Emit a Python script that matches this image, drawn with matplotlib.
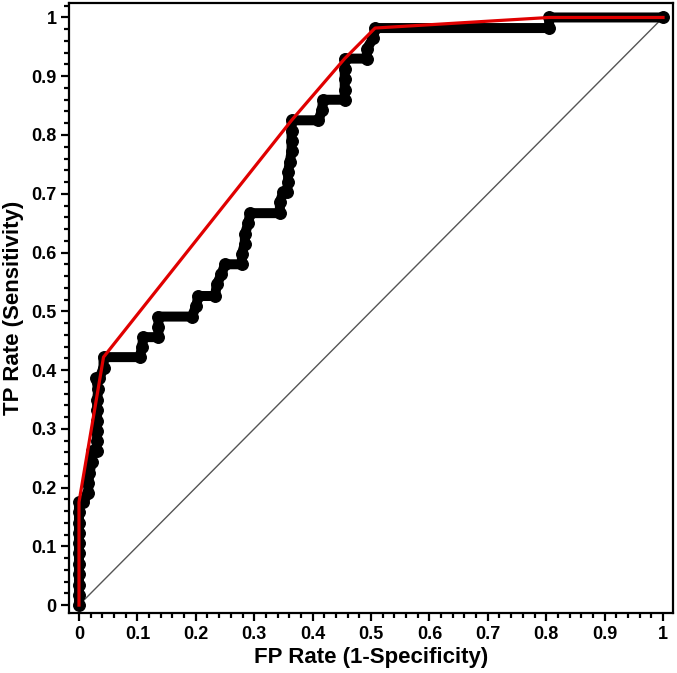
import numpy as np
import matplotlib
matplotlib.use("Agg")
import matplotlib.pyplot as plt
from matplotlib.ticker import MultipleLocator

plt.rcParams['font.family'] = ['Liberation Sans', 'DejaVu Sans']
plt.rcParams['font.weight'] = 'bold'

# ROC points
fpr = [0, 0, 0, 0, 0, 0, 0, 0, 0, 0, 0, 0.007,
       0.016, 0.016, 0.018, 0.022, 0.022, 0.030,
       0.031, 0.031, 0.031, 0.031, 0.031, 0.033,
       0.029, 0.035, 0.042, 0.042, 0.104,
       0.108, 0.110, 0.136, 0.136, 0.136, 0.193,
       0.201, 0.204, 0.233, 0.236, 0.244, 0.250, 0.279,
       0.279, 0.284, 0.284, 0.290, 0.293, 0.344,
       0.344, 0.350, 0.356, 0.358, 0.358, 0.361,
       0.364, 0.364, 0.364, 0.364, 0.410,
       0.416, 0.418, 0.455,
       0.455, 0.455, 0.455, 0.455, 0.493,
       0.493, 0.504, 0.507, 0.805, 0.805, 1.0]
tpr = [0, 0.018, 0.035, 0.053, 0.070, 0.088, 0.105, 0.123, 0.140, 0.158, 0.175, 0.175,
       0.191, 0.208, 0.225, 0.244, 0.262, 0.262,
       0.280, 0.297, 0.314, 0.332, 0.349, 0.367,
       0.386, 0.386, 0.404, 0.422, 0.422,
       0.439, 0.456, 0.456, 0.474, 0.491, 0.491,
       0.509, 0.526, 0.526, 0.546, 0.563, 0.580, 0.580,
       0.598, 0.615, 0.631, 0.650, 0.667, 0.667,
       0.686, 0.703, 0.703, 0.720, 0.737, 0.754,
       0.772, 0.790, 0.807, 0.825, 0.825,
       0.842, 0.860, 0.860,
       0.877, 0.895, 0.912, 0.930, 0.930,
       0.947, 0.965, 0.982, 0.982, 1.0, 1.0]

# convex hull
hull_x = [0, 0, 0.042, 0.364, 0.455, 0.507, 0.805, 1.0]
hull_y = [0, 0.175, 0.422, 0.825, 0.930, 0.982, 1.0, 1.0]

fig = plt.figure(figsize=(6.77, 6.73), dpi=100)
ax = fig.add_axes([0.102, 0.089, 0.892, 0.906])

ax.plot([0, 1], [0, 1], color='#555555', lw=1.0, zorder=1)
ax.plot(fpr, tpr, color='black', lw=7.2, solid_capstyle='round',
        solid_joinstyle='round', zorder=2)
ax.plot(fpr, tpr, 'o', color='black', ms=8.3, zorder=3)
ax.plot(hull_x, hull_y, color='#e00000', lw=2.3, zorder=4)

ax.set_xlim(-0.017, 1.017)
ax.set_ylim(-0.0136, 1.024)

ticks = [0, 0.1, 0.2, 0.3, 0.4, 0.5, 0.6, 0.7, 0.8, 0.9, 1]
labels = ['0', '0.1', '0.2', '0.3', '0.4', '0.5', '0.6', '0.7', '0.8', '0.9', '1']
ax.set_xticks(ticks)
ax.set_xticklabels(labels)
ax.set_yticks(ticks)
ax.set_yticklabels(labels)
ax.xaxis.set_minor_locator(MultipleLocator(0.02))
ax.yaxis.set_minor_locator(MultipleLocator(0.02))
ax.tick_params(which='major', direction='out', length=6, width=1.6,
               labelsize=13, pad=3)
ax.tick_params(which='minor', direction='out', length=3.6, width=1.6)

for s in ax.spines.values():
    s.set_linewidth(1.6)

ax.set_xlabel('FP Rate (1-Specificity)', fontsize=16, fontweight='bold', labelpad=3)
ax.set_ylabel('TP Rate (Sensitivity)', fontsize=16, fontweight='bold', labelpad=5)

fig.savefig('out.png', dpi=100)
